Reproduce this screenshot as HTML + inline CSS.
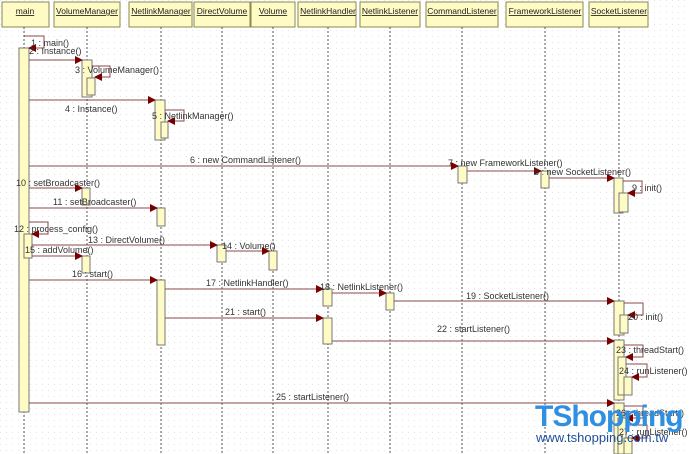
<!DOCTYPE html>
<html><head><meta charset="utf-8"><style>
html,body{margin:0;padding:0;background:#fff;width:690px;height:454px;overflow:hidden}
svg{display:block}
text{font-family:"Liberation Sans",sans-serif;font-size:9px;fill:#333}
.h{font-size:8.5px;fill:#222;text-decoration:underline}
.ll{stroke:#555;stroke-width:1;stroke-dasharray:2,2}
.b{fill:#fffbc4;stroke:#8a8a50;stroke-width:1}
.a{fill:#fffbc4;stroke:#777;stroke-width:1}
.m{stroke:#8a4a4a;stroke-width:1;fill:none}
</style></head><body>
<svg width="690" height="454" xmlns="http://www.w3.org/2000/svg">
<defs>
<pattern id="g" width="6" height="6" patternUnits="userSpaceOnUse"><rect x="0" y="0" width="1" height="1" fill="#e4e4e4"/></pattern>
<marker id="ar" markerWidth="8" markerHeight="8" refX="7" refY="4" orient="auto" markerUnits="userSpaceOnUse"><path d="M0,0 L8,4 L0,8 z" fill="#7a0000"/></marker>
</defs>
<rect width="690" height="454" fill="url(#g)"/>
<g>
<rect class="b" x="2" y="2" width="47" height="25"/><text class="h" x="25" y="14" text-anchor="middle">main</text>
<rect class="b" x="54" y="2" width="66" height="25"/><text class="h" x="87" y="14" text-anchor="middle">VolumeManager</text>
<rect class="b" x="129" y="2" width="63" height="25"/><text class="h" x="161" y="14" text-anchor="middle">NetlinkManager</text>
<rect class="b" x="194" y="2" width="56" height="25"/><text class="h" x="222" y="14" text-anchor="middle">DirectVolume</text>
<rect class="b" x="251" y="2" width="44" height="25"/><text class="h" x="273" y="14" text-anchor="middle">Volume</text>
<rect class="b" x="298" y="2" width="58" height="25"/><text class="h" x="328" y="14" text-anchor="middle">NetlinkHandler</text>
<rect class="b" x="360" y="2" width="60" height="25"/><text class="h" x="390" y="14" text-anchor="middle">NetlinkListener</text>
<rect class="b" x="426" y="2" width="72" height="25"/><text class="h" x="462" y="14" text-anchor="middle">CommandListener</text>
<rect class="b" x="506" y="2" width="77" height="25"/><text class="h" x="545" y="14" text-anchor="middle">FrameworkListener</text>
<rect class="b" x="589" y="2" width="59" height="25"/><text class="h" x="619" y="14" text-anchor="middle">SocketListener</text>
</g>
<g class="ll">
<line x1="24" y1="27" x2="24" y2="454"/><line x1="87" y1="27" x2="87" y2="454"/>
<line x1="161" y1="27" x2="161" y2="454"/><line x1="222" y1="27" x2="222" y2="454"/>
<line x1="273" y1="27" x2="273" y2="454"/><line x1="328" y1="27" x2="328" y2="454"/>
<line x1="390" y1="27" x2="390" y2="454"/><line x1="462" y1="27" x2="462" y2="454"/>
<line x1="545" y1="27" x2="545" y2="454"/><line x1="619" y1="27" x2="619" y2="454"/>
</g>
<rect class="a" x="19" y="48" width="10" height="364"/>
<rect class="a" x="24" y="234" width="8" height="24"/>
<rect class="a" x="82" y="60" width="10" height="37"/><rect class="a" x="87" y="78" width="8" height="17"/>
<rect class="a" x="155" y="100" width="10" height="40"/><rect class="a" x="161" y="122" width="7" height="16"/>
<rect class="a" x="458" y="166" width="9" height="17"/>
<rect class="a" x="541" y="171" width="8" height="17"/>
<rect class="a" x="614" y="178" width="9" height="35"/><rect class="a" x="619" y="193" width="9" height="19"/>
<rect class="a" x="82" y="188" width="8" height="17"/>
<rect class="a" x="157" y="208" width="8" height="18"/>
<rect class="a" x="217" y="245" width="9" height="17"/>
<rect class="a" x="269" y="251" width="8" height="19"/>
<rect class="a" x="82" y="256" width="8" height="17"/>
<rect class="a" x="157" y="280" width="8" height="65"/>
<rect class="a" x="323" y="289" width="9" height="17"/>
<rect class="a" x="386" y="293" width="8" height="17"/>
<rect class="a" x="614" y="301" width="10" height="34"/><rect class="a" x="620" y="315" width="8" height="18"/>
<rect class="a" x="323" y="318" width="9" height="26"/>
<rect class="a" x="614" y="340" width="10" height="60"/><rect class="a" x="618" y="357" width="8" height="38"/><rect class="a" x="624" y="377" width="8" height="18"/>
<rect class="a" x="614" y="403" width="10" height="51"/><rect class="a" x="618" y="418" width="8" height="36"/><rect class="a" x="624" y="438" width="8" height="16"/>
<g class="m">
<path d="M24,36 H44 V48 H29" marker-end="url(#ar)"/>
<line x1="29" y1="60" x2="82" y2="60" marker-end="url(#ar)"/>
<path d="M92,66 H110 V77 H95" marker-end="url(#ar)"/>
<line x1="29" y1="100" x2="155" y2="100" marker-end="url(#ar)"/>
<path d="M165,110 H184 V121 H168" marker-end="url(#ar)"/>
<line x1="29" y1="166" x2="458" y2="166" marker-end="url(#ar)"/>
<line x1="467" y1="171" x2="541" y2="171" marker-end="url(#ar)"/>
<line x1="549" y1="178" x2="614" y2="178" marker-end="url(#ar)"/>
<path d="M623,181 H642 V193 H628" marker-end="url(#ar)"/>
<line x1="29" y1="188" x2="82" y2="188" marker-end="url(#ar)"/>
<line x1="29" y1="208" x2="157" y2="208" marker-end="url(#ar)"/>
<path d="M29,222 H48 V234 H32" marker-end="url(#ar)"/>
<line x1="32" y1="245" x2="217" y2="245" marker-end="url(#ar)"/>
<line x1="226" y1="251" x2="269" y2="251" marker-end="url(#ar)"/>
<line x1="32" y1="256" x2="82" y2="256" marker-end="url(#ar)"/>
<line x1="29" y1="280" x2="157" y2="280" marker-end="url(#ar)"/>
<line x1="165" y1="289" x2="323" y2="289" marker-end="url(#ar)"/>
<line x1="332" y1="293" x2="386" y2="293" marker-end="url(#ar)"/>
<line x1="394" y1="301" x2="614" y2="301" marker-end="url(#ar)"/>
<path d="M624,303 H643 V315 H628" marker-end="url(#ar)"/>
<line x1="165" y1="318" x2="323" y2="318" marker-end="url(#ar)"/>
<line x1="332" y1="341" x2="614" y2="341" marker-end="url(#ar)"/>
<path d="M624,345 H643 V357 H626" marker-end="url(#ar)"/>
<path d="M626,364 H647 V377 H632" marker-end="url(#ar)"/>
<line x1="29" y1="403" x2="614" y2="403" marker-end="url(#ar)"/>
<path d="M624,406 H643 V418 H626" marker-end="url(#ar)"/>
<path d="M626,425 H647 V438 H632" marker-end="url(#ar)"/>
</g>
<text x="31" y="46">1 : main()</text>
<text x="29" y="54">2 : Instance()</text>
<text x="75" y="73">3 : VolumeManager()</text>
<text x="65" y="112">4 : Instance()</text>
<text x="152" y="119">5 : NetlinkManager()</text>
<text x="190" y="163">6 : new CommandListener()</text>
<text x="448" y="166">7 : new FrameworkListener()</text>
<text x="534" y="175">8 : new SocketListener()</text>
<text x="632" y="191">9 : init()</text>
<text x="16" y="186">10 : setBroadcaster()</text>
<text x="53" y="205">11 : setBroadcaster()</text>
<text x="14" y="232">12 : process_config()</text>
<text x="88" y="243">13 : DirectVolume()</text>
<text x="222" y="249">14 : Volume()</text>
<text x="25" y="253">15 : addVolume()</text>
<text x="72" y="277">16 : start()</text>
<text x="206" y="286">17 : NetlinkHandler()</text>
<text x="320" y="290">18 : NetlinkListener()</text>
<text x="466" y="299">19 : SocketListener()</text>
<text x="628" y="320">20 : init()</text>
<text x="225" y="315">21 : start()</text>
<text x="437" y="332">22 : startListener()</text>
<text x="616" y="353">23 : threadStart()</text>
<text x="619" y="374">24 : runListener()</text>
<text x="276" y="400">25 : startListener()</text>
<text x="616" y="416">26 : threadStart()</text>
<text x="619" y="435">27 : runListener()</text>
<text x="535" y="426" style="font-size:30px;font-weight:bold;fill:#2f8fe0;letter-spacing:-1px">TShopping</text>
<text x="536" y="442" style="font-size:13px;fill:#1f4f9a">www.tshopping.com.tw</text>
</svg>
</body></html>
